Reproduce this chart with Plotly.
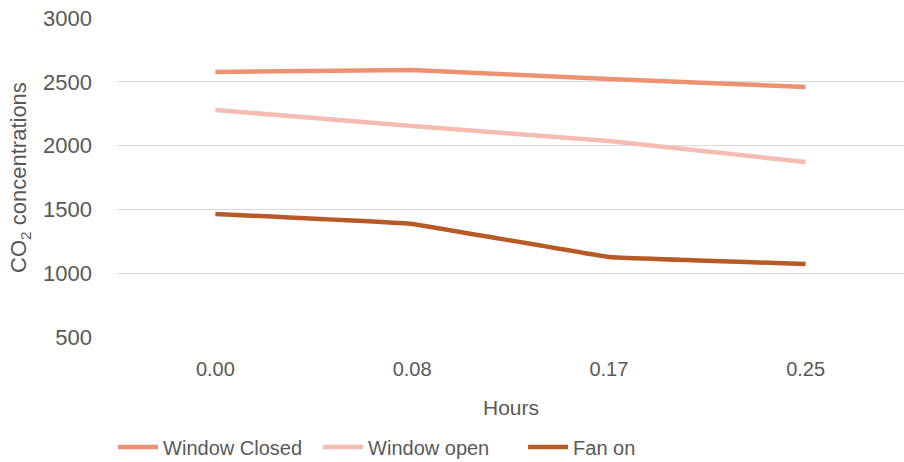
import plotly.graph_objects as go

hours = ["0.00", "0.08", "0.17", "0.25"]
window_closed = [2577, 2592, 2522, 2459]
window_open = [2279, 2154, 2036, 1871]
fan_on = [1464, 1386, 1127, 1072]

series = [
    ("Window Closed", window_closed, "#EE9171"),
    ("Window open", window_open, "#F5BDB1"),
    ("Fan on", fan_on, "#B85A26"),
]

fig = go.Figure()
for name, vals, col in series:
    fig.add_trace(go.Scatter(
        x=hours, y=vals, name=name, mode="lines",
        line=dict(color=col, width=4.5, shape="spline", smoothing=0.15),
    ))

font_fam = "Liberation Sans, Arial, sans-serif"
grey = "#595959"
fig.update_layout(
    width=904, height=462,
    paper_bgcolor="white", plot_bgcolor="white",
    margin=dict(l=117, r=0, t=18, b=125, autoexpand=False),
    font=dict(family=font_fam, size=20, color=grey),
    xaxis=dict(
        type="category", range=[-0.5, 3.5], automargin=False,
        showgrid=False, showline=False, zeroline=False,
        ticks="", ticklabelstandoff=18,
        tickfont=dict(size=20, color=grey),
    ),
    yaxis=dict(
        range=[500, 3000], tickvals=[500, 1000, 1500, 2000, 2500, 3000],
        automargin=False,
        showgrid=True, gridcolor="#D9D9D9", gridwidth=1.3,
        zeroline=False, showline=False, ticks="",
        ticklabelstandoff=24,
        tickfont=dict(size=22, color=grey),
    ),
    legend=dict(
        orientation="h", x=-0.005, xanchor="left", y=-0.345, yanchor="middle",
        font=dict(size=20, color=grey), itemwidth=40, entrywidth=150,
        bgcolor="rgba(0,0,0,0)",
    ),
    annotations=[
        dict(text="Hours", xref="paper", yref="paper", x=0.5, y=-0.22,
             yanchor="middle", xanchor="center", showarrow=False,
             font=dict(size=21, color=grey)),
        dict(text="CO<sub>2</sub> concentrations", xref="paper", yref="paper",
             x=-0.124, y=0.5, yanchor="middle", xanchor="center", textangle=-90,
             showarrow=False, font=dict(size=22, color=grey)),
    ],
)

fig.write_html("out.html", config={"displayModeBar": False},
               post_script="document.body.style.margin='0';document.body.style.padding='0';")
